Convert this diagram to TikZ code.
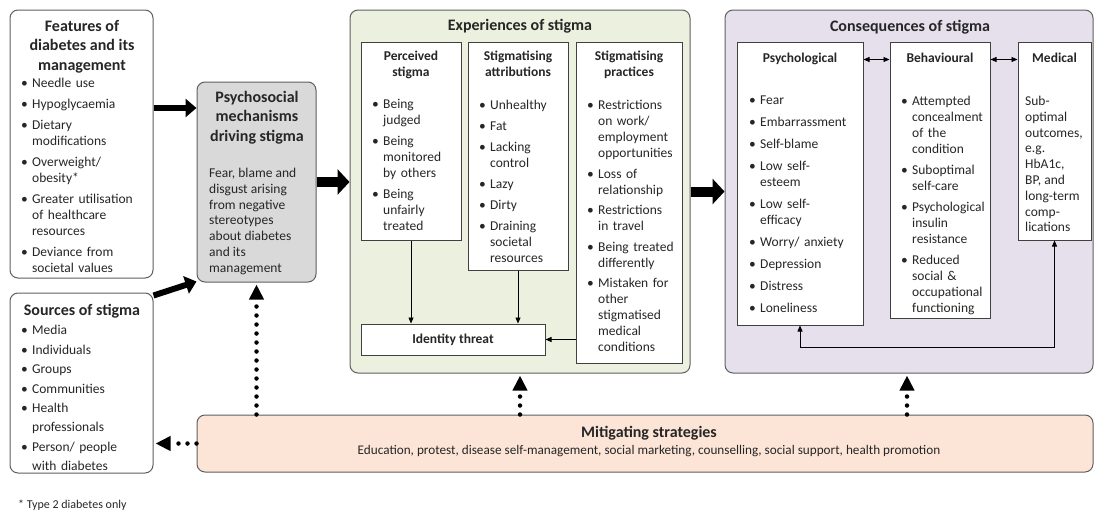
\documentclass[tikz,border=0pt]{standalone}
\usepackage{fontspec}
\setmainfont{Carlito}
\usetikzlibrary{arrows.meta}
\definecolor{expgreen}{RGB}{235,241,222}
\definecolor{conslilac}{RGB}{229,224,236}
\definecolor{mitpeach}{RGB}{252,229,214}
\definecolor{mechgrey}{RGB}{217,217,217}
\definecolor{edgegrey}{RGB}{95,95,95}
\newcommand{\itm}[1]{\hangindent=11pt\hangafter=1\makebox[11pt][l]{\textbullet}#1\par}

\begin{document}
\begin{tikzpicture}[x=1pt,y=-1pt]
\tikzstyle{every node}+=[inner sep=0pt]
\tikzstyle{rbox}=[draw=edgegrey,line width=1pt,rounded corners=8pt]
\tikzstyle{sbox}=[draw=black!75,line width=1pt,fill=white]
\tikzstyle{head}=[font=\fontsize{16}{19.5}\selectfont\bfseries,align=center,text=black!85]
\tikzstyle{subhead}=[font=\fontsize{13.5}{15.5}\selectfont\bfseries,align=center,text=black!85]
\tikzstyle{plain}=[anchor=north west,align=left,text=black!85,font=\fontsize{13.5}{15.8}\selectfont]
\tikzstyle{list}=[anchor=north west,align=left,text=black!85,font=\fontsize{13.5}{16}\selectfont,execute at begin node={\setlength{\parskip}{5pt}}]
\tikzstyle{bigarrow}=[line width=6pt,-{Triangle[length=11pt,width=18pt]}]
\tikzstyle{hugearrow}=[line width=10pt,-{Triangle[length=12pt,width=25pt]}]
\tikzstyle{dotarrow}=[line width=4.5pt,dash pattern=on 0pt off 9pt,line cap=round,-{Triangle[length=15pt,width=14pt]}]
\tikzstyle{thinarrow}=[line width=0.8pt,-{Triangle[length=6pt,width=5pt]}]
\tikzstyle{thinboth}=[line width=0.8pt,{Triangle[length=6pt,width=5pt]}-{Triangle[length=6pt,width=5pt]}]
\useasboundingbox (0,0) rectangle (1094,514);

\node [rbox, fill=white, minimum width=143pt, minimum height=268pt] (feat) at (81.5,144) {};
\node [head, anchor=north] at (82,20) {Features of\\diabetes and its\\management};
\node [list, text width=130pt] at (21,78) {\itm{Needle use}\itm{Hypoglycaemia}\itm{Dietary\newline modifications}\itm{Overweight/\newline obesity*}\itm{Greater utilisation\newline of healthcare\newline resources}\itm{Deviance from\newline societal values}};

\node [rbox, fill=white, minimum width=143pt, minimum height=180pt] (src) at (81.5,383) {};
\node [head, anchor=north] at (82,304) {Sources of stigma};
\node [list, text width=130pt, font=\fontsize{13.5}{19}\selectfont, execute at begin node={\setlength{\parskip}{0.5pt}}] at (21,325) {\itm{Media}\itm{Individuals}\itm{Groups}\itm{Communities}\itm{Health\newline professionals}\itm{Person/ people\newline with diabetes}};

\node [font=\fontsize{12}{14}\selectfont, text=black!85, anchor=west] (note) at (18,505) {* Type 2 diabetes only};

\node [rbox, fill=mechgrey, minimum width=119pt, minimum height=200pt] (psy) at (256.5,182) {};
\node [head, anchor=north] at (257,91) {Psychosocial\\mechanisms\\driving stigma};
\node [plain] at (209,168) {Fear, blame and\\disgust arising\\from negative\\stereotypes\\about diabetes\\and its\\management};

\node [rbox, fill=expgreen, minimum width=340pt, minimum height=363pt] (exp) at (520,191.5) {};
\node [head, anchor=north] at (520,19) {Experiences of stigma};
\node [sbox, minimum width=100pt, minimum height=198pt] (perc) at (411,141.5) {};
\node [sbox, minimum width=100pt, minimum height=228pt] (attr) at (518,156) {};
\node [sbox, minimum width=106pt, minimum height=321pt] (prac) at (629,202.5) {};
\node [sbox, minimum width=184pt, minimum height=31pt, font=\fontsize{13.5}{15.5}\selectfont\bfseries, text=black!85] (idt) at (453,339.5) {Identity threat};
\node [subhead, anchor=north] at (411,51) {Perceived\\stigma};
\node [subhead, anchor=north] at (518,51) {Stigmatising\\attributions};
\node [subhead, anchor=north] at (629,51) {Stigmatising\\practices};
\node [list, text width=88pt] at (372,99) {\itm{Being\newline judged}\itm{Being\newline monitored\newline by others}\itm{Being\newline unfairly\newline treated}};
\node [list, text width=88pt] at (479,100) {\itm{Unhealthy}\itm{Fat}\itm{Lacking\newline control}\itm{Lazy}\itm{Dirty}\itm{Draining\newline societal\newline resources}};
\node [list, text width=95pt, execute at begin node={\setlength{\parskip}{4.5pt}}] at (587,100) {\itm{Restrictions\newline on work/\newline employment\newline opportunities}\itm{Loss of\newline relationship}\itm{Restrictions\newline in travel}\itm{Being treated\newline differently}\itm{Mistaken for\newline other\newline stigmatised\newline medical\newline conditions}};
\draw [thinarrow] (perc.south) -- (perc.south |- idt.north);
\draw [thinarrow] (attr.south) -- (attr.south |- idt.north);
\draw [thinarrow] (prac.west |- idt.east) -- (idt.east);

\node [rbox, fill=conslilac, minimum width=368pt, minimum height=363pt] (cons) at (909,191.5) {};
\node [head, anchor=north] at (910,20) {Consequences of stigma};
\node [sbox, minimum width=126pt, minimum height=283pt] (psyc) at (800,183.5) {};
\node [sbox, minimum width=100pt, minimum height=276pt] (beh) at (940,180) {};
\node [sbox, minimum width=73pt, minimum height=198pt] (med) at (1054.5,141) {};
\node [subhead, anchor=north] at (800,53) {Psychological};
\node [subhead, anchor=north] at (940,53) {Behavioural};
\node [subhead, anchor=north] at (1054.5,53) {Medical};
\node [list, text width=112pt, execute at begin node={\setlength{\parskip}{6pt}}] at (749,96) {\itm{Fear}\itm{Embarrassment}\itm{Self-blame}\itm{Low self-\newline esteem}\itm{Low self-\newline efficacy}\itm{Worry/ anxiety}\itm{Depression}\itm{Distress}\itm{Loneliness}};
\node [list, text width=90pt] at (901,96) {\itm{Attempted\newline concealment\newline of the\newline condition}\itm{Suboptimal\newline self-care}\itm{Psychological\newline insulin\newline resistance}\itm{Reduced\newline social \&\newline occupational\newline functioning}};
\node [plain] at (1025,96) {Sub-\\optimal\\outcomes,\\e.g.\\HbA1c,\\BP, and\\long-term\\comp-\\lications};
\draw [thinboth] ([yshift=-18pt]psyc.north east) -- ([yshift=-18pt]beh.north west);
\draw [thinboth] ([yshift=-18pt]beh.north east) -- ([yshift=-18pt]med.north west);
\draw [thinboth] (psyc.south) -- ++(0,22) -| (med.south);

\node [rbox, fill=mitpeach, minimum width=896pt, minimum height=57pt] (mit) at (645,443.5) {};
\node [font=\fontsize{16}{19}\selectfont\bfseries, text=black!85] at (649,433) {Mitigating strategies};
\node [font=\fontsize{13.2}{15}\selectfont, text=black!85] at (649,451) {Education, protest, disease self-management, social marketing, counselling, social support, health promotion};

\draw [bigarrow] ([yshift=36pt]feat.east) -- ([yshift=36pt]feat.east -| psy.west);
\draw [bigarrow] ([yshift=-3pt]src.north east) -- ([yshift=1pt]psy.south west);
\draw [hugearrow] (psy.east) -- (psy.east -| exp.west);
\draw [hugearrow] (exp.east) -- (cons.west);

\draw [dotarrow] (psy.south |- mit.north) -- ([yshift=-2pt]psy.south);
\draw [dotarrow] (exp.south |- mit.north) -- ([yshift=-2pt]exp.south);
\draw [dotarrow] ([xshift=-2pt]cons.south |- mit.north) -- ([xshift=-2pt,yshift=-2pt]cons.south);
\draw [dotarrow] (mit.west) -- ([xshift=2pt]mit.west -| src.east);
\end{tikzpicture}
\end{document}
